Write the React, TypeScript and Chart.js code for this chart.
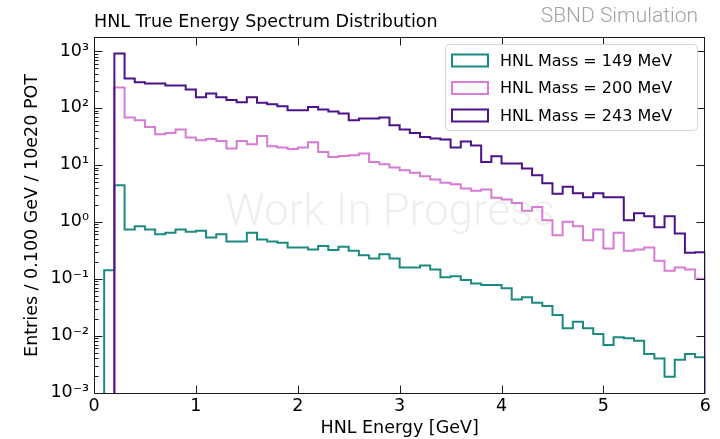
import React, { useEffect, useRef } from "react";
import { Chart, registerables } from "chart.js";

Chart.register(...registerables);

// ---- data (bins of 0.1 GeV, left edges) ----
const binLeftEdges = [
  0.0, 0.1, 0.2, 0.3, 0.4, 0.5, 0.6, 0.7, 0.8, 0.9,
  1.0, 1.1, 1.2, 1.3, 1.4, 1.5, 1.6, 1.7, 1.8, 1.9,
  2.0, 2.1, 2.2, 2.3, 2.4, 2.5, 2.6, 2.7, 2.8, 2.9,
  3.0, 3.1, 3.2, 3.3, 3.4, 3.5, 3.6, 3.7, 3.8, 3.9,
  4.0, 4.1, 4.2, 4.3, 4.4, 4.5, 4.6, 4.7, 4.8, 4.9,
  5.0, 5.1, 5.2, 5.3, 5.4, 5.5, 5.6, 5.7, 5.8, 5.9,
];
const histEnd = 6.0;

const mass149 = [
  0, 0.142, 4.4, 0.735, 0.84, 0.735, 0.608, 0.642, 0.735, 0.668,
  0.697, 0.532, 0.608, 0.453, 0.453, 0.642, 0.491, 0.453, 0.429, 0.355,
  0.355, 0.327, 0.375, 0.319, 0.365, 0.31, 0.26, 0.228, 0.271, 0.228,
  0.158, 0.158, 0.172, 0.146, 0.106, 0.111, 0.095, 0.083, 0.078, 0.078,
  0.068, 0.0435, 0.0472, 0.0379, 0.0332, 0.0231, 0.0135, 0.0176, 0.0135, 0.0107,
  0.0069, 0.0094, 0.009, 0.0082, 0.0048, 0.004, 0.0019, 0.0038, 0.0048, 0.0042,
];
const mass200 = [
  0, 0, 228, 67.8, 60.8, 46.5, 34.6, 36.5, 41.8, 30.2,
  27.1, 28.6, 26.4, 19.4, 26.4, 23.1, 32.3, 21.3, 20.2, 19.1,
  20.2, 25, 16.9, 13.8, 14.4, 14.8, 15.8, 11.3, 10.3, 9.0,
  8.07, 7.25, 6.34, 5.54, 4.84, 4.59, 3.85, 3.5, 3.7, 2.65,
  2.47, 2.15, 1.56, 1.83, 1.07, 0.584, 1.0, 0.841, 0.477, 0.736,
  0.341, 0.641, 0.31, 0.328, 0.356, 0.207, 0.138, 0.158, 0.146, 0.1,
];
const mass243 = [
  0, 0, 900, 328, 282, 268, 268, 247, 247, 210,
  154, 179, 154, 138, 126, 154, 124, 116, 107, 91,
  91, 104, 93.6, 86.4, 79.7, 60.8, 65, 65, 67.8, 49.7,
  41.8, 36.5, 31, 29, 27.9, 20.2, 25.7, 21.9, 11.3, 14.2,
  10.6, 10.6, 8.65, 6.6, 4.78, 3.12, 4.14, 3.19, 2.71, 3.19,
  2.71, 2.71, 1.07, 1.42, 1.26, 0.807, 1.26, 0.626, 0.286, 0.294,
];

const seriesLabels = ["HNL Mass = 149 MeV", "HNL Mass = 200 MeV", "HNL Mass = 243 MeV"];
const seriesColors = ["#1b8a81", "#d87bd5", "#4c1289"];

const xTickValues = [0, 1, 2, 3, 4, 5, 6];
const yTickValues = [1e-3, 1e-2, 1e-1, 1, 10, 100, 1000];
const yTickLabels = ["10\u207B\u00B3", "10\u207B\u00B2", "10\u207B\u00B9", "10\u2070", "10\u00B9", "10\u00B2", "10\u00B3"];

const titleText = "HNL True Energy Spectrum Distribution";
const tagText = "SBND Simulation";
const watermarkText = "Work In Progress";
const xTitle = "HNL Energy [GeV]";
const yTitle = "Entries / 0.100 GeV / 10e20 POT";

const Y_MIN = 0.000949;
const Y_MAX = 1761;
const FLOOR = 1e-5;

function stepPoints(values: number[]) {
  const pts = binLeftEdges.map((x, i) => ({ x, y: values[i] > 0 ? values[i] : FLOOR }));
  pts.push({ x: histEnd, y: FLOOR });
  return pts;
}

const FONT = '"DejaVu Sans", sans-serif';

const decorPlugin = {
  id: "decor",
  beforeDatasetsDraw(chart: any) {
    const ctx = chart.ctx;
    ctx.save();
    ctx.font = '300 44px Roboto, "DejaVu Sans", sans-serif';
    ctx.fillStyle = "rgba(0,0,0,0.065)";
    ctx.textAlign = "center";
    ctx.textBaseline = "middle";
    ctx.fillText(watermarkText, 390, 214);
    ctx.restore();
  },
  afterDraw(chart: any) {
    const ctx = chart.ctx;
    const ca = chart.chartArea;
    const xs = chart.scales.x;
    const ys = chart.scales.y;
    ctx.save();

    // frame
    const L = Math.round(ca.left) + 0.5;
    const R = Math.round(ca.right) - 0.5;
    const T = Math.round(ca.top) + 0.5;
    const B = Math.round(ca.bottom) - 0.5;
    ctx.strokeStyle = "#1a1a1a";
    ctx.lineWidth = 1;
    ctx.strokeRect(L, T, R - L, B - T);

    ctx.beginPath();
    // x major ticks (bottom + top, inward)
    xTickValues.forEach((v) => {
      const px = Math.round(xs.getPixelForValue(v)) + 0.5;
      if (px <= L + 1 || px >= R - 1) return;
      ctx.moveTo(px, B);
      ctx.lineTo(px, B - 8);
      ctx.moveTo(px, T);
      ctx.lineTo(px, T + 8);
    });
    // y major ticks (left + right, inward)
    yTickValues.forEach((v) => {
      const py = Math.round(ys.getPixelForValue(v)) + 0.5;
      ctx.moveTo(L, py);
      ctx.lineTo(L + 8, py);
      ctx.moveTo(R, py);
      ctx.lineTo(R - 8, py);
    });
    // y minor ticks (left)
    for (let k = -4; k <= 3; k++) {
      for (let m = 2; m <= 9; m++) {
        const v = m * Math.pow(10, k);
        if (v < Y_MIN || v > Y_MAX) continue;
        const py = Math.round(ys.getPixelForValue(v)) + 0.5;
        ctx.moveTo(L, py);
        ctx.lineTo(L + 4, py);
      }
    }
    ctx.stroke();

    // title + tag
    ctx.fillStyle = "#000";
    ctx.font = "17.5px " + FONT;
    ctx.textAlign = "left";
    ctx.textBaseline = "middle";
    ctx.fillText(titleText, Math.round(ca.left), 22);

    ctx.fillStyle = "#a3a3a3";
    ctx.font = '300 21px Roboto, "DejaVu Sans", sans-serif';
    ctx.textAlign = "right";
    ctx.fillText(tagText, 698, 17);

    // legend
    const lx = 445.5, ly = 44.5, lw = 252, lh = 86, r = 4;
    ctx.beginPath();
    ctx.moveTo(lx + r, ly);
    ctx.lineTo(lx + lw - r, ly);
    ctx.arcTo(lx + lw, ly, lx + lw, ly + r, r);
    ctx.lineTo(lx + lw, ly + lh - r);
    ctx.arcTo(lx + lw, ly + lh, lx + lw - r, ly + lh, r);
    ctx.lineTo(lx + r, ly + lh);
    ctx.arcTo(lx, ly + lh, lx, ly + lh - r, r);
    ctx.lineTo(lx, ly + r);
    ctx.arcTo(lx, ly, lx + r, ly, r);
    ctx.closePath();
    ctx.fillStyle = "rgba(255,255,255,0.8)";
    ctx.fill();
    ctx.strokeStyle = "#d6d6d6";
    ctx.lineWidth = 1;
    ctx.stroke();

    chart.data.datasets.forEach((ds: any, i: number) => {
      const cy = 60.5 + i * 27.5;
      ctx.strokeStyle = ds.borderColor;
      ctx.lineWidth = 2;
      ctx.strokeRect(452, cy - 6, 36, 12);
      ctx.fillStyle = "#000";
      ctx.font = "16px " + FONT;
      ctx.textAlign = "left";
      ctx.textBaseline = "middle";
      ctx.fillText(ds.label, 500, cy + 1);
    });

    ctx.restore();
  },
};

export default function App() {
  const ref = useRef<HTMLCanvasElement | null>(null);

  useEffect(() => {
    if (!ref.current) return;
    const datasets = [mass149, mass200, mass243].map((vals, i) => ({
      label: seriesLabels[i],
      data: stepPoints(vals),
      borderColor: seriesColors[i],
      backgroundColor: seriesColors[i],
      borderWidth: 2,
      pointRadius: 0,
      fill: false,
      stepped: "before" as const,
      tension: 0,
      order: 2 - i,
    }));

    const chart = new Chart(ref.current, {
      type: "line",
      data: { datasets },
      options: {
        responsive: false,
        devicePixelRatio: 1,
        animation: false,
        layout: { padding: { top: 37, right: 14.7, left: 0, bottom: 0 } },
        plugins: {
          legend: { display: false },
          tooltip: { enabled: false },
          title: { display: false },
        },
        scales: {
          x: {
            type: "linear",
            position: "bottom",
            min: 0,
            max: 6,
            afterBuildTicks: (scale: any) => {
              scale.ticks = xTickValues.map((v) => ({ value: v }));
            },
            ticks: {
              autoSkip: false,
              maxRotation: 0,
              padding: 2,
              color: "#000",
              font: { family: FONT, size: 17.5 },
              callback: (v: any) => String(v),
            },
            grid: { display: false, drawTicks: false },
            border: { display: false },
            title: {
              display: true,
              text: xTitle,
              color: "#000",
              font: { family: FONT, size: 17.5 },
              padding: { top: 0.5, bottom: 0.5 },
            },
            afterFit: (scale: any) => {
              scale.height = 45;
            },
          },
          y: {
            type: "logarithmic",
            position: "left",
            min: Y_MIN,
            max: Y_MAX,
            afterBuildTicks: (scale: any) => {
              scale.ticks = yTickValues.map((v) => ({ value: v, major: true }));
            },
            ticks: {
              autoSkip: false,
              padding: 5,
              color: "#000",
              font: { family: FONT, size: 17.5 },
              callback: (v: any) => {
                const idx = yTickValues.findIndex((t) => Math.abs(Math.log10(t) - Math.log10(Number(v))) < 1e-6);
                return idx >= 0 ? yTickLabels[idx] : "";
              },
            },
            grid: { display: false, drawTicks: false },
            border: { display: false },
            title: {
              display: true,
              text: yTitle,
              color: "#000",
              font: { family: FONT, size: 17.5 },
              padding: { top: 22, bottom: 22 },
            },
            afterFit: (scale: any) => {
              scale.width = 94;
            },
          },
        },
      },
      plugins: [decorPlugin],
    });

    return () => chart.destroy();
  }, []);

  return (
    <div style={{ position: "fixed", left: 0, top: 0, width: 720, height: 439, background: "#fff" }}>
      <canvas ref={ref} width={720} height={439} style={{ display: "block", width: 720, height: 439 }} />
    </div>
  );
}
